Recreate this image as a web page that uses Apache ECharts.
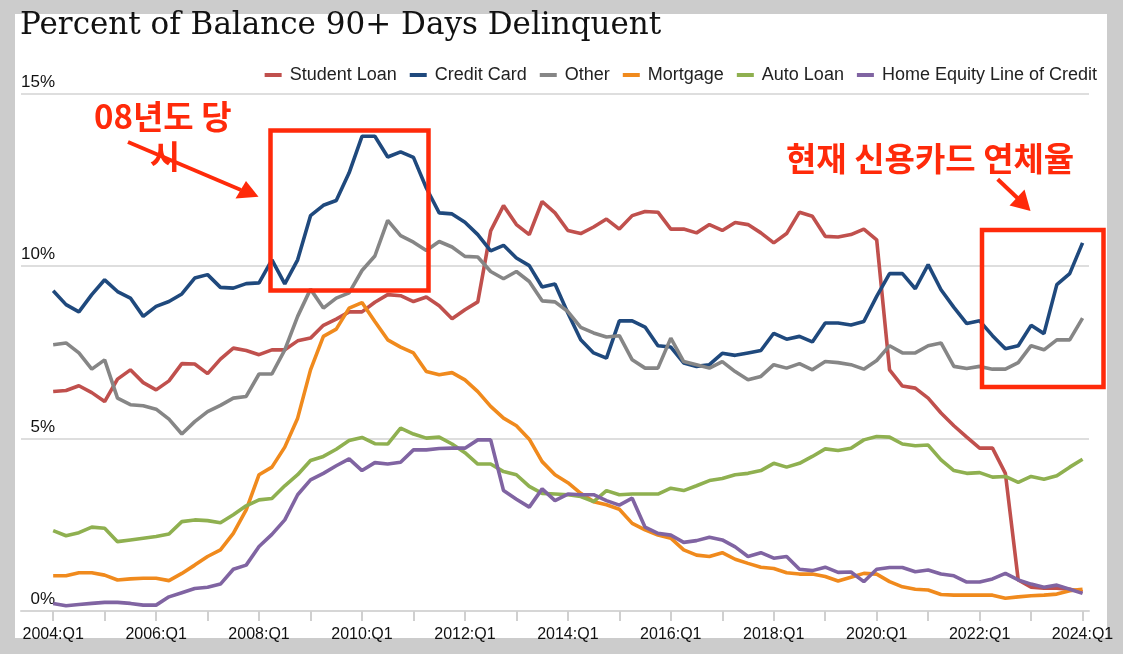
<!DOCTYPE html>
<html>
<head>
<meta charset="utf-8">
<script src="https://cdn.jsdelivr.net/npm/echarts/dist/echarts.min.js"></script>
<style>
html,body{margin:0;padding:0;background:#cccccc;}
#chart{width:1123px;height:654px;}
</style>
</head>
<body>
<div id="chart"></div>
<script>
// ---- data ----
const titleText = 'Percent of Balance 90+ Days Delinquent';
const seriesNames = ['Student Loan','Credit Card','Other','Mortgage','Auto Loan','Home Equity Line of Credit'];
const seriesColors = ['#c0504d','#1f497d','#868686','#f08a1d','#8fb050','#8064a2'];
const xTickLabels = ['2004:Q1','2006:Q1','2008:Q1','2010:Q1','2012:Q1','2014:Q1','2016:Q1','2018:Q1','2020:Q1','2022:Q1','2024:Q1'];
const yTicks = [0,5,10,15];

const categories = [];
for (let y = 2004; y <= 2024; y++) { for (let q = 1; q <= 4; q++) { if (y === 2024 && q > 1) break; categories.push(y + ':Q' + q); } }

const studentLoan = [
6.36,6.39,6.53,6.33,6.07,6.72,6.99,6.62,6.41,6.67,
7.17,7.16,6.88,7.30,7.62,7.55,7.43,7.57,7.57,7.83,
7.91,8.28,8.46,8.67,8.67,8.95,9.17,9.14,8.97,9.10,
8.85,8.47,8.73,8.96,11.02,11.75,11.20,10.91,11.87,11.54,
11.03,10.94,11.13,11.36,11.07,11.46,11.58,11.56,11.07,11.07,
10.96,11.20,11.03,11.26,11.20,10.96,10.67,10.94,11.56,11.44,
10.86,10.84,10.91,11.07,10.76,6.99,6.52,6.46,6.17,5.74,
5.37,5.04,4.72,4.72,3.99,0.90,0.69,0.66,0.66,0.63,
0.56];
const creditCard = [
9.28,8.88,8.67,9.17,9.60,9.26,9.07,8.54,8.83,8.97,
9.19,9.65,9.75,9.38,9.36,9.49,9.51,10.18,9.48,10.18,
11.46,11.76,11.90,12.70,13.76,13.76,13.16,13.31,13.15,12.26,
11.54,11.51,11.27,10.91,10.44,10.60,10.23,10.01,9.39,9.48,
8.64,7.86,7.48,7.33,8.41,8.41,8.23,7.69,7.65,7.19,
7.09,7.14,7.47,7.41,7.48,7.55,8.05,7.88,7.96,7.80,
8.35,8.35,8.29,8.39,9.12,9.78,9.78,9.34,10.04,9.31,
8.80,8.33,8.41,7.98,7.60,7.69,8.28,8.04,9.46,9.78,
10.67];
const other = [
7.72,7.77,7.48,7.01,7.28,6.17,5.98,5.95,5.85,5.56,
5.13,5.49,5.78,5.96,6.17,6.22,6.87,6.87,7.57,8.54,
9.33,8.78,9.07,9.22,9.87,10.29,11.32,10.88,10.69,10.45,
10.71,10.55,10.28,10.26,9.84,9.63,9.84,9.55,8.99,8.96,
8.68,8.22,8.06,7.94,7.98,7.28,7.04,7.04,7.91,7.23,
7.14,7.04,7.23,6.94,6.70,6.80,7.14,7.04,7.17,6.99,
7.23,7.20,7.14,7.01,7.26,7.69,7.48,7.48,7.69,7.77,
7.09,7.03,7.09,7.01,7.01,7.20,7.69,7.57,7.86,7.86,
8.49];
const mortgage = [
1.02,1.02,1.11,1.11,1.04,0.90,0.93,0.95,0.95,0.88,
1.09,1.33,1.58,1.77,2.25,2.93,3.95,4.17,4.75,5.59,
6.99,7.96,8.17,8.78,8.94,8.39,7.86,7.65,7.48,6.94,
6.85,6.91,6.70,6.36,5.93,5.59,5.37,4.98,4.33,3.95,
3.72,3.41,3.17,3.08,2.95,2.54,2.35,2.20,2.11,1.77,
1.62,1.58,1.69,1.50,1.38,1.27,1.23,1.11,1.07,1.07,
1.00,0.87,0.98,1.09,1.07,0.85,0.70,0.63,0.61,0.48,
0.46,0.46,0.46,0.46,0.37,0.41,0.44,0.46,0.49,0.59,
0.63];
const autoLoan = [
2.33,2.18,2.27,2.43,2.40,2.01,2.06,2.11,2.16,2.23,
2.59,2.64,2.62,2.56,2.79,3.05,3.22,3.26,3.63,3.95,
4.36,4.48,4.69,4.94,5.03,4.85,4.84,5.30,5.13,5.01,
5.04,4.84,4.59,4.26,4.26,4.04,3.95,3.61,3.41,3.39,
3.37,3.32,3.17,3.49,3.37,3.39,3.39,3.39,3.56,3.49,
3.63,3.78,3.84,3.95,3.99,4.07,4.28,4.17,4.28,4.48,
4.70,4.65,4.72,4.96,5.06,5.04,4.84,4.79,4.81,4.38,
4.07,3.99,4.01,3.88,3.90,3.73,3.90,3.82,3.92,4.17,
4.40];
const heloc = [
0.22,0.15,0.19,0.22,0.25,0.25,0.22,0.17,0.17,0.41,
0.53,0.65,0.69,0.78,1.21,1.33,1.87,2.22,2.64,3.37,
3.80,3.99,4.21,4.41,4.07,4.30,4.26,4.31,4.67,4.67,
4.71,4.72,4.72,4.96,4.96,3.49,3.24,3.01,3.54,3.20,
3.39,3.37,3.37,3.20,3.07,3.27,2.43,2.25,2.20,1.99,
2.04,2.14,2.06,1.86,1.58,1.69,1.53,1.58,1.21,1.17,
1.27,1.12,1.13,0.85,1.21,1.26,1.26,1.14,1.19,1.07,
1.02,0.84,0.84,0.93,1.09,0.90,0.78,0.69,0.75,0.63,
0.51];

const annotationLeft = ['08년도 당', '시'];
const annotationRight = '현재 신용카드 연체율';

// ---- chart ----
const allSeries = [studentLoan, creditCard, other, mortgage, autoLoan, heloc];
const labelIdx = xTickLabels.map(l => categories.indexOf(l));
const tickIdx = categories.map((c, i) => i).filter(i => categories[i].endsWith('Q1'));

const chart = echarts.init(document.getElementById('chart'), null, {renderer: 'canvas'});
const red = '#ff2a0a';
const korFont = '"Noto Sans CJK KR", sans-serif';

chart.setOption({
  animation: false,
  backgroundColor: '#cccccc',
  textStyle: {fontFamily: '"Liberation Sans", Arial, sans-serif'},
  title: {
    text: titleText, left: 20, top: 10, padding: 0,
    textStyle: {fontFamily: '"DejaVu Serif", serif', fontSize: 31, fontWeight: 'normal', color: '#111'}
  },
  legend: {
    right: 21, top: 61, itemGap: 13, itemWidth: 17, itemHeight: 4, icon: 'rect',
    textStyle: {fontSize: 18, color: '#222', padding: [0, 0, 0, 3]},
    data: seriesNames
  },
  grid: {left: 21, right: 34, top: 93.5, bottom: 43, containLabel: false},
  xAxis: {
    type: 'value', min: -2.5, max: 80.5,
    splitLine: {show: false},
    axisLine: {show: true, lineStyle: {color: '#d6d6d6', width: 2}},
    axisTick: {show: true, customValues: tickIdx, length: 10, lineStyle: {color: '#d0d0d0', width: 2}},
    axisLabel: {customValues: labelIdx, formatter: v => categories[Math.round(v)], fontSize: 16, color: '#111', margin: 16}
  },
  yAxis: {
    type: 'value', min: 0, max: 15, interval: 5,
    axisLine: {show: false}, axisTick: {show: false},
    splitLine: {lineStyle: {color: '#dedede', width: 2}},
    axisLabel: {inside: true, margin: 34, align: 'right', verticalAlign: 'bottom', padding: [0,0,3,0],
      formatter: v => yTicks.includes(v) ? v + '%' : '', fontSize: 17, color: '#111'}
  },
  series: allSeries.map((arr, k) => ({
    name: seriesNames[k], type: 'line', symbol: 'none', showSymbol: false,
    color: seriesColors[k],
    lineStyle: {width: 3.6, color: seriesColors[k]},
    data: arr.map((v, i) => [i, v]),
    z: 3
  })),
  graphic: [
    {type: 'rect', z: -10, silent: true, shape: {x: 15, y: 14, width: 1092, height: 624}, style: {fill: '#ffffff'}},
    {type: 'rect', z: 100, shape: {x: 270.5, y: 130.5, width: 158, height: 160}, style: {fill: 'none', stroke: red, lineWidth: 4.5}},
    {type: 'rect', z: 100, shape: {x: 982, y: 230, width: 121.5, height: 157}, style: {fill: 'none', stroke: red, lineWidth: 4.5}},
    {type: 'text', z: 100, x: 94, y: 116.5, style: {text: annotationLeft[0], fill: red, font: 'bold 33px ' + korFont, verticalAlign: 'middle', align: 'left'}},
    {type: 'text', z: 100, x: 165, y: 156.5, style: {text: annotationLeft[1], fill: red, font: 'bold 33px ' + korFont, verticalAlign: 'middle', align: 'center'}},
    {type: 'text', z: 100, x: 786, y: 158.5, style: {text: annotationRight, fill: red, font: 'bold 33px ' + korFont, verticalAlign: 'middle', align: 'left'}},
    {type: 'line', z: 101, shape: {x1: 128, y1: 142, x2: 241, y2: 190}, style: {stroke: red, lineWidth: 4}},
    {type: 'polygon', z: 101, shape: {points: [[258.5, 196.7], [235.5, 198.5], [246, 181]]}, style: {fill: red}},
    {type: 'line', z: 101, shape: {x1: 997.7, y1: 179.3, x2: 1018, y2: 198.5}, style: {stroke: red, lineWidth: 4}},
    {type: 'polygon', z: 101, shape: {points: [[1030.5, 211], [1009.5, 205.5], [1024.5, 189.5]]}, style: {fill: red}}
  ]
});
</script>
</body>
</html>
